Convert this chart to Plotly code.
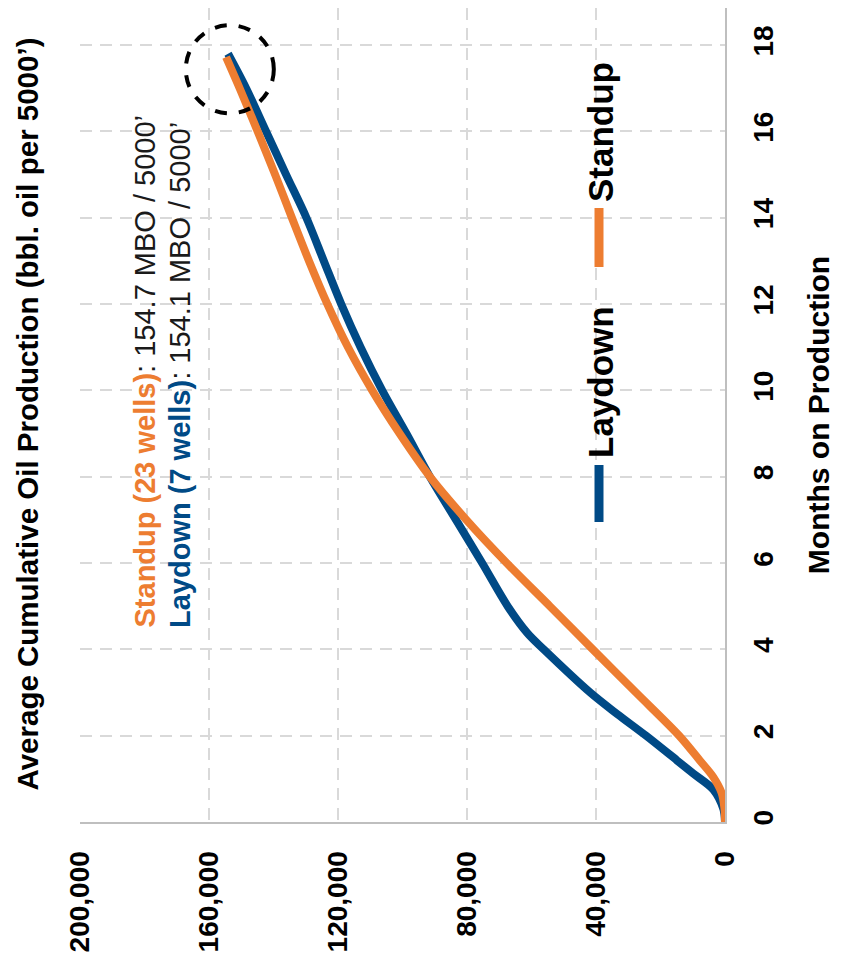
import plotly.graph_objects as go

# ---- data ----
months_standup = [0, 0.3, 0.67, 1.04, 1.42, 2, 3, 4, 5, 6, 7, 8, 9, 10, 11, 12, 13, 14, 15, 16, 17, 17.72]
cum_standup = [0, 150, 1030, 3620, 7740, 14200, 27600, 41000, 54300, 67700, 80200, 91500, 100900,
               109400, 116900, 123300, 129000, 134300, 139500, 144900, 150500, 154700]

months_laydown = [0, 0.3, 0.75, 1.12, 1.43, 2, 2.5, 3, 4, 4.37, 5, 6, 7, 8, 9, 10, 11, 12, 13, 14, 15, 16, 17, 17.8]
cum_laydown = [0, 500, 3600, 9800, 14950, 24500, 33400, 41800, 56200, 61200, 67400, 75300, 83400, 91500,
               98800, 106300, 113000, 119000, 124400, 129800, 136100, 142300, 148500, 154100]

cum_ticks = [0, 40000, 80000, 120000, 160000, 200000]
month_ticks = [0, 2, 4, 6, 8, 10, 12, 14, 16, 18]

series_names = ["Standup", "Laydown"]
well_counts = [23, 7]
totals_mbo = [154.7, 154.1]

ORANGE = "#ED7D31"
BLUE = "#004A86"
FONT = "Liberation Sans, Arial, sans-serif"

fig = go.Figure()
fig.add_trace(go.Scatter(x=cum_laydown, y=months_laydown, mode="lines", name="Laydown",
                         line=dict(color=BLUE, width=8, shape="spline", smoothing=0.9)))
fig.add_trace(go.Scatter(x=cum_standup, y=months_standup, mode="lines", name="Standup",
                         line=dict(color=ORANGE, width=8, shape="spline", smoothing=0.9)))

W, H = 835, 955
fig.update_layout(
    width=W, height=H,
    margin=dict(l=72, r=118, t=0, b=141),
    paper_bgcolor="white", plot_bgcolor="white",
    showlegend=False,
    font=dict(family=FONT, color="black"),
    xaxis=dict(
        range=[200000, 0], tickvals=cum_ticks,
        ticktext=[f"{v:,}" for v in cum_ticks],
        tickangle=-90, ticklabelstandoff=16,
        tickfont=dict(size=28, family=FONT, color="black", weight="bold"),
        showgrid=True, gridcolor="#D9D9D9", gridwidth=2, griddash="12px,8px",
        showline=True, linecolor="#BFBFBF", linewidth=2,
        zeroline=False, ticks="",
    ),
    yaxis=dict(
        range=[0, 18.86], tickvals=month_ticks, side="right",
        tickangle=-90, ticklabelstandoff=12,
        tickfont=dict(size=28, family=FONT, color="black", weight="bold"),
        showgrid=True, gridcolor="#D9D9D9", gridwidth=2, griddash="12px,8px",
        showline=True, linecolor="#BFBFBF", linewidth=2,
        zeroline=False, ticks="",
        title=dict(text="<b>Months on Production</b>", standoff=30,
                   font=dict(size=30, family=FONT, color="black")),
    ),
)

# helpers: page pixel position -> paper fraction (page = plot coords + 8px body margin)
def py(pix):
    return (822 - pix) / 814

def px(pix):
    return (pix - 80) / 645

# chart title (rotated, left side)
fig.add_annotation(xref="paper", yref="paper", x=px(27), y=py(793), xanchor="center", yanchor="bottom",
                   textangle=-90, showarrow=False,
                   text="<b>Average Cumulative Oil Production (bbl. oil per 5000’)</b>",
                   font=dict(size=29.5, family=FONT, color="black"))

# series summary annotations
for name, wells, tot, col, xpix in [(series_names[0], well_counts[0], totals_mbo[0], ORANGE, 144),
                                    (series_names[1], well_counts[1], totals_mbo[1], BLUE, 180)]:
    fig.add_annotation(xref="paper", yref="paper", x=px(xpix), y=py(630), xanchor="center", yanchor="bottom",
                       textangle=-90, showarrow=False,
                       text=f"<span style='color:{col}'><b>{name} ({wells} wells)</b></span>: {tot} MBO / 5000’",
                       font=dict(size=29, family=FONT, color="#1a1a1a"))

# legend (rotated)
for name, col, seg, txt_bottom in [("Laydown", BLUE, (465, 522), 460), ("Standup", ORANGE, (208, 267), 204)]:
    fig.add_shape(type="line", xref="paper", yref="paper", x0=px(599), x1=px(599),
                  y0=py(seg[1]), y1=py(seg[0]), line=dict(color=col, width=9))
    fig.add_annotation(xref="paper", yref="paper", x=px(600), y=py(txt_bottom), xanchor="center",
                       yanchor="bottom", textangle=-90, showarrow=False, text=f"<b>{name}</b>",
                       font=dict(size=35, family=FONT, color="black"))

# dashed circle highlighting the end points
fig.add_shape(type="circle", xref="x", yref="y", x0=167200, x1=139900, y0=16.42, y1=18.46,
              line=dict(color="black", width=4, dash="dash"))

fig.write_html("out.html")
